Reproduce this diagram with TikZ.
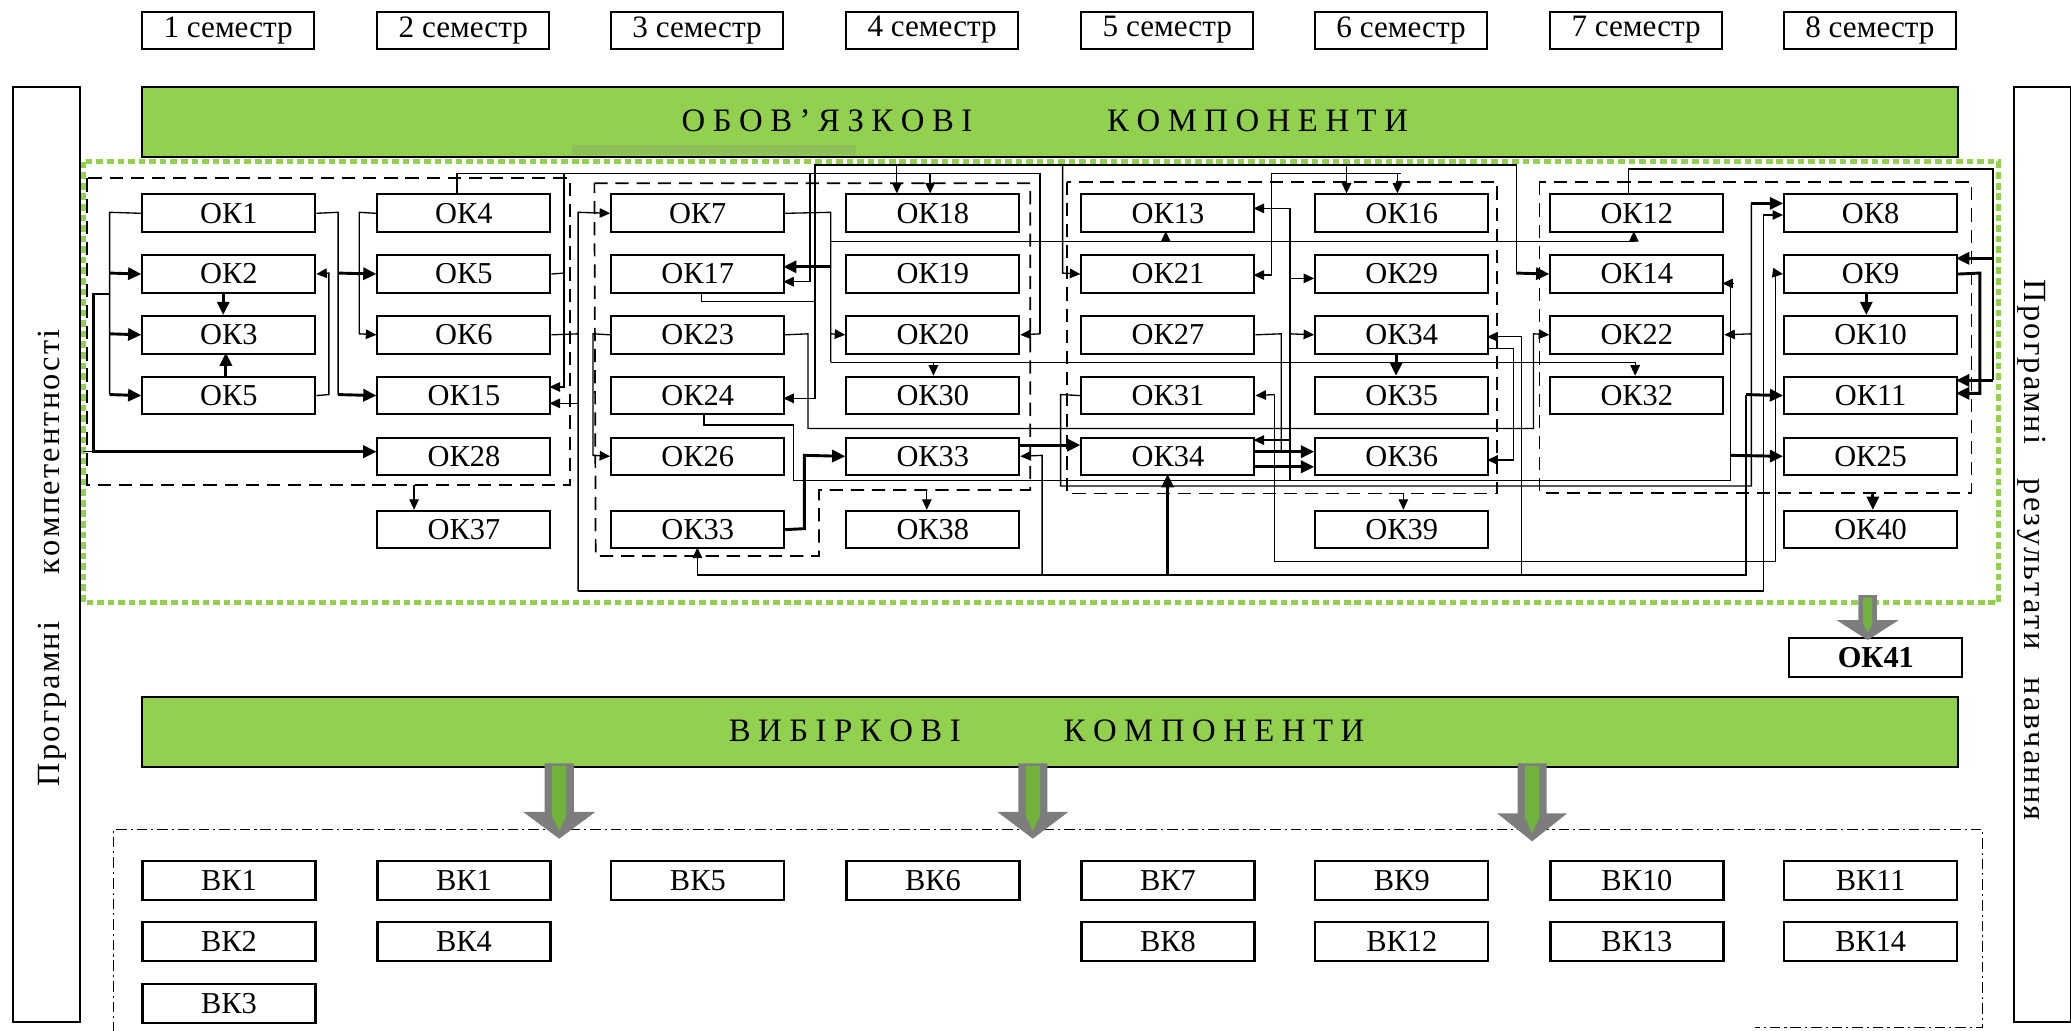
\documentclass[tikz,border=0pt]{standalone}
\usepackage{fontspec}
\setmainfont{Liberation Serif}
\usetikzlibrary{arrows.meta}
\definecolor{grn}{RGB}{146,208,80}
\definecolor{ggray}{RGB}{125,125,125}
\definecolor{ginner}{RGB}{112,178,60}
\makeatletter
\def\spc@k{0.2em}
\def\spc@loop#1{\ifx\relax#1\else#1\kern\spc@k\relax\expandafter\spc@loop\fi}
\newcommand\lsp[2]{\def\spc@k{#1}\spc@loop#2\relax}
\makeatother
\newcommand\grayarrow[7]{%
  \fill[ggray] ({#1-#6},#2) -- ({#1+#6},#2) -- ({#1+#6},#3) -- ({#1+#5},#3) -- (#1,#4) -- ({#1-#5},#3) -- ({#1-#6},#3) -- cycle;
  \fill[ginner] ({#1-#7},{#2+2}) -- ({#1+#7},{#2+2}) -- ({#1+#7},{#3+3}) -- (#1,{#4-6}) -- ({#1-#7},{#3+3}) -- cycle;}
\begin{document}
\begin{tikzpicture}[x=0.5pt,y=-0.5pt,
  okb/.style={draw, fill=white, line width=0.75pt, minimum width=65.5pt, minimum height=14.25pt, inner sep=0pt, anchor=north west, font=\fontsize{11.5}{12}\selectfont},
  semb/.style={okb, minimum height=14pt, minimum width=65pt, font=\fontsize{11.8}{12}\selectfont},
  bkb/.style={okb, line width=0.85pt, minimum height=14.75pt},
  ln/.style={line width=0.5pt},
  arr/.style={line width=0.5pt, -{Triangle[length=4pt,width=3.6pt]}},
  tarr/.style={line width=1.1pt, -{Triangle[length=5pt,width=4.6pt]}},
  grp/.style={line width=0.65pt, dash pattern=on 5pt off 3pt},
  bigtxt/.style={font=\fontsize{12.4}{14}\selectfont, inner sep=0pt, anchor=base},
  sidetxt/.style={font=\fontsize{12.25}{14}\selectfont, inner sep=0pt, anchor=base},
  outb/.style={draw, line width=0.7pt, inner sep=0pt, anchor=north west},
  bar/.style={draw, fill=grn, line width=0.75pt, minimum width=687.5pt, minimum height=26.5pt, inner sep=0pt, anchor=north west}
]
\useasboundingbox (0,0) rectangle (1568,780);

% semesters
\foreach \i/\x in {1/107,2/285,3/462,4/640,5/818,6/995,7/1173,8/1350}
  \node[semb] (sem\i) at (\x,8) {\i\ семестр};

% side boxes
\node[outb, minimum width=25.5pt, minimum height=354pt] (lbox) at (9,65) {};
\node[outb, minimum width=21.5pt, minimum height=354pt] (rbox) at (1524,65) {};
\node[sidetxt, rotate=90] (ltxt) at (45,421.5) {\lsp{0.07em}{Програмні}\hspace{1.4em}\lsp{0.07em}{компетентності}};
\node[sidetxt, rotate=-90] (rtxt) at (1533,417.5) {\lsp{0.07em}{Програмні}\hspace{1em}\lsp{0.07em}{результати}\hspace{0.8em}\lsp{0.07em}{навчання}};

% bars
\node[bar] (barA) at (107,65) {};
\node[bar] (barB) at (107,527) {};
\fill[grn!80!gray] (433,110) rectangle (648,117);
\node[bigtxt] (t1) at (629,99.7) {\lsp{0.23em}{ОБОВ’ЯЗКОВІ}};
\node[bigtxt] (t2) at (955,99.7) {\lsp{0.23em}{КОМПОНЕНТИ}};
\node[bigtxt] (t3) at (642.5,561.6) {\lsp{0.23em}{ВИБІРКОВІ}};
\node[bigtxt] (t4) at (922,561.6) {\lsp{0.23em}{КОМПОНЕНТИ}};

% green dotted frame
\draw[grn, line width=2pt, dash pattern=on 2.5pt off 1.5pt] (63,122.5) rectangle (1513,456);

% dashed groups
\draw[grp] (66,135) rectangle (431.5,367);
\draw[grp] (450,138.8) -- (780,138.8) -- (780,371) -- (620,371) -- (620,421) -- (451,421) -- cycle;
\draw[grp] (808,137.6) rectangle (1133.6,373.6);
\draw[grp] (1165.5,138) rectangle (1492.7,373.3);

% OK boxes
\node[okb] (a1) at (107,146.5) {ОК1};
\node[okb] (a2) at (107,192.5) {ОК2};
\node[okb] (a3) at (107,238.5) {ОК3};
\node[okb] (a5) at (107,284.5) {ОК5};
\node[okb] (b4) at (285,146.5) {ОК4};
\node[okb] (b5) at (285,192.5) {ОК5};
\node[okb] (b6) at (285,238.5) {ОК6};
\node[okb] (b15) at (285,284.5) {ОК15};
\node[okb] (b28) at (285,330.5) {ОК28};
\node[okb] (b37) at (285,386) {ОК37};
\node[okb] (c7) at (462,146.5) {ОК7};
\node[okb] (c17) at (462,192.5) {ОК17};
\node[okb] (c23) at (462,238.5) {ОК23};
\node[okb] (c24) at (462,284.5) {ОК24};
\node[okb] (c26) at (462,330.5) {ОК26};
\node[okb] (c33) at (462,386) {ОК33};
\node[okb] (d18) at (640,146.5) {ОК18};
\node[okb] (d19) at (640,192.5) {ОК19};
\node[okb] (d20) at (640,238.5) {ОК20};
\node[okb] (d30) at (640,284.5) {ОК30};
\node[okb] (d33) at (640,330.5) {ОК33};
\node[okb] (d38) at (640,386) {ОК38};
\node[okb] (e13) at (818,146.5) {ОК13};
\node[okb] (e21) at (818,192.5) {ОК21};
\node[okb] (e27) at (818,238.5) {ОК27};
\node[okb] (e31) at (818,284.5) {ОК31};
\node[okb] (e34) at (818,330.5) {ОК34};
\node[okb] (f16) at (995,146.5) {ОК16};
\node[okb] (f29) at (995,192.5) {ОК29};
\node[okb] (f34) at (995,238.5) {ОК34};
\node[okb] (f35) at (995,284.5) {ОК35};
\node[okb] (f36) at (995,330.5) {ОК36};
\node[okb] (f39) at (995,386) {ОК39};
\node[okb] (g12) at (1173,146.5) {ОК12};
\node[okb] (g14) at (1173,192.5) {ОК14};
\node[okb] (g22) at (1173,238.5) {ОК22};
\node[okb] (g32) at (1173,284.5) {ОК32};
\node[okb] (h8) at (1350,146.5) {ОК8};
\node[okb] (h9) at (1350,192.5) {ОК9};
\node[okb] (h10) at (1350,238.5) {ОК10};
\node[okb] (h11) at (1350,284.5) {ОК11};
\node[okb] (h25) at (1350,330.5) {ОК25};
\node[okb] (h40) at (1350,386) {ОК40};
\node[okb, minimum height=15pt, font=\fontsize{11.5}{12}\selectfont\bfseries] (ok41) at (1354,482) {ОК41};

% connectors: columns 1-2
\draw[ln] (a1.west) -- (83,160.75) -- (83,298.75);
\draw[tarr] (83,206.75) -- (a2.west);
\draw[tarr] (83,252.75) -- (a3.west);
\draw[tarr] (83,298.75) -- (a5.west);
\draw[tarr] (169,221) -- (169,238.5);
\draw[tarr] (171,284.5) -- (171,267);
\draw[arr] (a5.east) -- (249,298.75) -- (249,206.75) -- (a2.east);
\draw[ln] (a1.east) -- (256,160.75) -- (256,298.75);
\draw[tarr] (256,298.75) -- (b15.west);
\draw[tarr] (256,206.75) -- (b5.west);
\draw[arr] (b4.west) -- (272,160.75) -- (272,252.75) -- (b6.west);
\draw[tarr] (83,222.6) -- (71,222.6) -- (71,342) -- (285,342);
\draw[ln] (63,342) -- (71,342);
\draw[arr] (313.5,367) -- (313.5,386);
\draw[ln] (b5.east) -- (427,206.75);
\draw[ln] (346,146.5) -- (346,131.3) -- (787.5,131.3) -- (787.5,252.75);
\draw[arr] (787.5,252.75) -- (d20.east);
\draw[arr] (427,131.3) -- (427,293) -- (416,293);
\draw[arr] (613.3,131.3) -- (613.3,213.3) -- (593,213.3);
\draw[arr] (704.2,131.3) -- (704.2,146.5);
\draw[ln] (b6.east) -- (437.7,252.75);
\draw[arr] (437.7,447.5) -- (437.7,160.75) -- (c7.west);
\draw[arr] (437.7,305.4) -- (416,305.4);
\draw[arr] (437.7,447.5) -- (1335,447.5) -- (1335,162.8) -- (1350,162.8);

% OK7 fan-out
\draw[ln] (c7.east) -- (629,160.75) -- (629,274.4);
\draw[tarr] (629,202) -- (593,202);
\draw[arr] (629,252.75) -- (d20.west);
\draw[ln] (629,183) -- (1237,183);
\draw[arr] (1237,183) -- (1237,175);
\draw[arr] (882.6,183) -- (882.6,175);
\draw[ln] (629,274.4) -- (1238,274.4);
\draw[arr] (1238,274.4) -- (1238,284.5);
\draw[arr] (706.7,274.4) -- (706.7,284.5);

% OK17 fan-out
\draw[arr] (531,221) -- (531,228.4) -- (617,228.4) -- (617,301.6) -- (593,301.6);
\draw[ln] (617,228.4) -- (617,125) -- (1148,125) -- (1148,206.75);
\draw[tarr] (1148,206.75) -- (g14.west);
\draw[arr] (679,125) -- (679,146.5);
\draw[arr] (804.5,125) -- (804.5,206.75) -- (e21.west);
\draw[arr] (1019.5,125) -- (1019.5,146.5);

% OK23
\draw[arr] (c23.east) -- (611.7,252.75) -- (611.7,324.4) -- (1161,324.4) -- (1161,252.75) -- (g22.west);
\draw[arr] (c23.west) -- (449,252.75) -- (449,344.75) -- (c26.west);

% OK24
\draw[ln] (533,313) -- (533,321.8) -- (601,321.8) -- (601,364) -- (1310,364) -- (1310,214.6);
\draw[arr] (1312,214.6) -- (1304,214.6);
\draw[tarr] (1310,344.75) -- (h25.west);

% OK31
\draw[ln] (e31.west) -- (803,298.75) -- (803,368) -- (1326,368) -- (1326,154);
\draw[tarr] (1326,154) -- (1350,154);
\draw[arr] (1326,252.75) -- (g22.east);

% OK33 links
\draw[tarr] (771,337) -- (818,337);
\draw[tarr] (c33.east) -- (609,400.25) -- (609,344.75) -- (d33.west);
\draw[arr] (701.7,371) -- (701.7,386);

% bottom bus B2
\draw[ln] (528,435.4) -- (1322,435.4) -- (1322,298.75);
\draw[arr] (528,435.4) -- (528,414.5);
\draw[tarr] (1322,298.75) -- (h11.west);
\draw[arr] (789,435.4) -- (789,344.75) -- (d33.east);
\draw[tarr] (884,435.4) -- (884,359);
\draw[arr] (1152,435.4) -- (1152,255) -- (1126,255);

% OK27 / OK31 / B1
\draw[ln] (e27.east) -- (970,252.75) -- (970,342);
\draw[tarr] (949,342) -- (995,342);
\draw[arr] (965,298.75) -- (e31.east);
\draw[ln] (965,298.75) -- (965,425.3) -- (1344,425.3) -- (1344,206.75);
\draw[arr] (1344,206.75) -- (h9.west);

% vertical 977
\draw[ln] (976.7,157.8) -- (976.7,364);
\draw[arr] (976.7,157.8) -- (949,157.8);
\draw[arr] (976.7,210.8) -- (995,210.8);
\draw[arr] (976.7,252.75) -- (f34.west);
\draw[arr] (976.7,333.2) -- (949,333.2);
\draw[tarr] (949,353.4) -- (995,353.4);

% col 6 right
\draw[arr] (1126,263.8) -- (1145.7,263.8) -- (1145.7,348.3) -- (1126,348.3);
\draw[arr] (1062.5,373.6) -- (1062.5,386);
\draw[ln] (962.8,131.3) -- (1061,131.3);
\draw[arr] (1058,131.3) -- (1058,146.5);
\draw[arr] (962.8,131.3) -- (962.8,208.3) -- (949,208.3);
\draw[tarr] (1057,267) -- (1057,284.5);

% cols 7-8
\draw[ln] (1233,146.5) -- (1233,128) -- (1509,128) -- (1509,288);
\draw[tarr] (1509,288) -- (1481,288);
\draw[tarr] (1509,195.6) -- (1481,195.6);
\draw[tarr] (h9.east) -- (1499,206.75) -- (1499,297.8) -- (1481,297.8);
\draw[tarr] (1413,221) -- (1413,238.5);
\draw[tarr] (1418,373.6) -- (1418,386);

% optional components
\draw[line width=0.5pt, dash pattern=on 4pt off 1.5pt on 0.8pt off 1.5pt] (86,782) -- (86,628) -- (1501,628) -- (1501,778) -- (1329,778);
\foreach \n/\t/\x/\y in {k1/ВК1/107/651, k1b/ВК1/285/651, k5/ВК5/462/651, k6/ВК6/640/651, k7/ВК7/818/651, k9/ВК9/995/651, k10/ВК10/1173/651, k11/ВК11/1350/651,
  k2/ВК2/107/697, k4/ВК4/285/697, k8/ВК8/818/697, k12/ВК12/995/697, k13/ВК13/1173/697, k14/ВК14/1350/697, k3/ВК3/107/744}
  \node[bkb] (\n) at (\x,\y) {\t};

% big gray arrows
\grayarrow{423.4}{578}{614.6}{635}{27.5}{11}{5.5}
\grayarrow{782}{578}{614.6}{635}{27}{11}{5.5}
\grayarrow{1160}{578}{615.8}{637}{26.5}{11}{5.5}
\grayarrow{1414}{450.5}{469.5}{484.6}{23.5}{7}{3.5}
\end{tikzpicture}
\end{document}
